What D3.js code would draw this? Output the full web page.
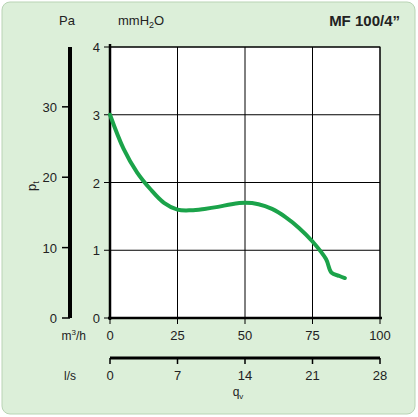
<!DOCTYPE html><html><head><script src="https://cdn.jsdelivr.net/npm/d3@7"></script>
<style>body{margin:0;background:#fff}svg{font-family:Arial,"Liberation Sans",sans-serif}</style></head><body>
<svg id="c" width="418" height="417"></svg>
<script>
const flowM3h=[0,5,10,15,20,25,30,35,40,45,50,55,60,65,70,75,80,82,85,87];
const pressMm=[3.0,2.5,2.15,1.9,1.7,1.6,1.59,1.61,1.64,1.68,1.7,1.68,1.61,1.49,1.33,1.13,0.87,0.67,0.62,0.59];
const xTicksM3h=[0,25,50,75,100];
const yTicksMm=[0,1,2,3,4];
const paTicks=[0,10,20,30];
const lsTicks=[0,7,14,21,28];
const svg=d3.select("#c");
svg.append("rect").attr("x",2).attr("y",2).attr("width",413).attr("height",412).attr("rx",8).attr("fill","#dcefd9").attr("stroke","#b9d4b5");
const x=d3.scaleLinear().domain([0,100]).range([110,380]);
const y=d3.scaleLinear().domain([0,4]).range([318,47]);
const yPa=d3.scaleLinear().domain([0,38.5]).range([318,47]);
const xLs=d3.scaleLinear().domain([0,28]).range([110,380]);
svg.append("rect").attr("x",110).attr("y",47).attr("width",270).attr("height",271).attr("fill","#fff");
const g=svg.append("g");
g.selectAll(".gx").data(xTicksM3h).join("line").attr("x1",d=>x(d)).attr("x2",d=>x(d)).attr("y1",47).attr("y2",318).attr("stroke","#000").attr("stroke-width",1);
g.selectAll(".gy").data(yTicksMm).join("line").attr("x1",110).attr("x2",380).attr("y1",d=>y(d)).attr("y2",d=>y(d)).attr("stroke","#000").attr("stroke-width",1);
svg.append("rect").attr("x",110).attr("y",47).attr("width",270).attr("height",271).attr("fill","none").attr("stroke","#000");
svg.append("line").attr("x1",110).attr("x2",110).attr("y1",44).attr("y2",320).attr("stroke","#000").attr("stroke-width",2.5);
svg.append("line").attr("x1",108).attr("x2",382).attr("y1",318).attr("y2",318).attr("stroke","#000").attr("stroke-width",2.5);
const t=(x0,y0,s,a,size)=>svg.append("text").attr("x",x0).attr("y",y0).attr("text-anchor",a||"middle").attr("font-size",size||13).attr("fill","#222").text(s);
yTicksMm.forEach(d=>{t(100,y(d)+5,d,"end");svg.append("line").attr("x1",104).attr("x2",110).attr("y1",y(d)).attr("y2",y(d)).attr("stroke","#000")});
xTicksM3h.forEach(d=>{t(x(d),340,d);svg.append("line").attr("x1",x(d)).attr("x2",x(d)).attr("y1",318).attr("y2",324).attr("stroke","#000")});
svg.append("line").attr("x1",70).attr("x2",70).attr("y1",47).attr("y2",318).attr("stroke","#000").attr("stroke-width",4);
paTicks.forEach(d=>{t(57,yPa(d)+5,d,"end");svg.append("line").attr("x1",62).attr("x2",70).attr("y1",yPa(d)).attr("y2",yPa(d)).attr("stroke","#000").attr("stroke-width",1.5)});
svg.append("line").attr("x1",110).attr("x2",380).attr("y1",358).attr("y2",358).attr("stroke","#000").attr("stroke-width",3);
lsTicks.forEach(d=>{t(xLs(d),380,d);svg.append("line").attr("x1",xLs(d)).attr("x2",xLs(d)).attr("y1",358).attr("y2",364).attr("stroke","#000").attr("stroke-width",1.5)});
t(67,25,"Pa");
svg.append("text").attr("x",118).attr("y",25).attr("text-anchor","start").attr("font-size",13).attr("fill","#222").html('mmH<tspan font-size="9" dy="3">2</tspan><tspan dy="-3">O</tspan>');
svg.append("text").attr("x",400).attr("y",26).attr("text-anchor","end").attr("font-size",15).attr("font-weight","bold").attr("fill","#222").text("MF 100/4”");
svg.append("text").attr("x",86).attr("y",340).attr("text-anchor","end").attr("font-size",12).attr("fill","#222").html('m<tspan font-size="8" dy="-5">3</tspan><tspan dy="5">/h</tspan>');
t(70,380,"l/s","middle",12);
svg.append("text").attr("x",238).attr("y",396).attr("text-anchor","middle").attr("font-size",12).attr("fill","#222").html('q<tspan font-size="8" dy="3">v</tspan>');
svg.append("text").attr("transform","translate(36,186) rotate(-90)").attr("text-anchor","middle").attr("font-size",13).attr("fill","#222").html('p<tspan font-size="9" dy="3">t</tspan>');
const line=d3.line().x((d,i)=>x(flowM3h[i])).y(d=>y(d)).curve(d3.curveCatmullRom);
svg.append("path").attr("d",line(pressMm)).attr("fill","none").attr("stroke","#1ba34a").attr("stroke-width",4).attr("stroke-linecap","round");
</script></body></html>
